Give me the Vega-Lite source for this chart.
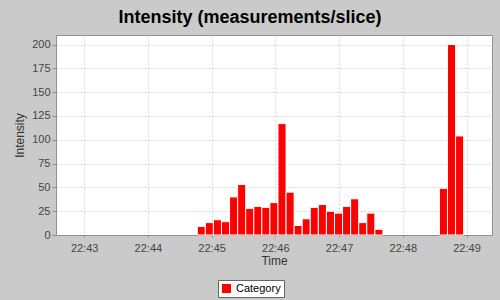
{
  "$schema": "https://vega.github.io/schema/vega-lite/v6.json",
  "width": 436,
  "height": 200,
  "autosize": {"type": "none"},
  "padding": {"left": 56, "top": 35, "right": 8, "bottom": 65},
  "background": "#cacaca",
  "title": {
    "text": "Intensity (measurements/slice)",
    "anchor": "middle",
    "dx": -24,
    "offset": 8,
    "font": "Liberation Sans",
    "fontSize": 18,
    "fontWeight": "bold",
    "color": "#000000"
  },
  "config": {
    "view": {"fill": "#ffffff", "stroke": "#909090", "strokeWidth": 1},
    "axis": {
      "labelFont": "Liberation Sans",
      "labelFontSize": 11,
      "labelColor": "#444444",
      "titleFont": "Liberation Sans",
      "titleFontSize": 12,
      "titleFontWeight": "normal",
      "titleColor": "#333333",
      "domainColor": "#909090",
      "tickColor": "#909090",
      "gridColor": "#d4d4d4",
      "gridDash": [2, 2],
      "gridWidth": 1
    }
  },
  "data": {
    "values": [
      {"start": "2024-01-01T22:44:46.5Z", "end": "2024-01-01T22:44:54.1Z", "value": 9, "series": "Category"},
      {"start": "2024-01-01T22:44:54.1Z", "end": "2024-01-01T22:45:01.7Z", "value": 13, "series": "Category"},
      {"start": "2024-01-01T22:45:01.7Z", "end": "2024-01-01T22:45:09.3Z", "value": 16, "series": "Category"},
      {"start": "2024-01-01T22:45:09.3Z", "end": "2024-01-01T22:45:16.9Z", "value": 14, "series": "Category"},
      {"start": "2024-01-01T22:45:16.9Z", "end": "2024-01-01T22:45:24.5Z", "value": 40, "series": "Category"},
      {"start": "2024-01-01T22:45:24.5Z", "end": "2024-01-01T22:45:32.1Z", "value": 53, "series": "Category"},
      {"start": "2024-01-01T22:45:32.1Z", "end": "2024-01-01T22:45:39.7Z", "value": 28, "series": "Category"},
      {"start": "2024-01-01T22:45:39.7Z", "end": "2024-01-01T22:45:47.3Z", "value": 30, "series": "Category"},
      {"start": "2024-01-01T22:45:47.3Z", "end": "2024-01-01T22:45:54.9Z", "value": 29, "series": "Category"},
      {"start": "2024-01-01T22:45:54.9Z", "end": "2024-01-01T22:46:02.5Z", "value": 34, "series": "Category"},
      {"start": "2024-01-01T22:46:02.5Z", "end": "2024-01-01T22:46:10.1Z", "value": 117, "series": "Category"},
      {"start": "2024-01-01T22:46:10.1Z", "end": "2024-01-01T22:46:17.7Z", "value": 45, "series": "Category"},
      {"start": "2024-01-01T22:46:17.7Z", "end": "2024-01-01T22:46:25.3Z", "value": 10, "series": "Category"},
      {"start": "2024-01-01T22:46:25.3Z", "end": "2024-01-01T22:46:32.9Z", "value": 17, "series": "Category"},
      {"start": "2024-01-01T22:46:32.9Z", "end": "2024-01-01T22:46:40.5Z", "value": 29, "series": "Category"},
      {"start": "2024-01-01T22:46:40.5Z", "end": "2024-01-01T22:46:48.1Z", "value": 32, "series": "Category"},
      {"start": "2024-01-01T22:46:48.1Z", "end": "2024-01-01T22:46:55.7Z", "value": 25, "series": "Category"},
      {"start": "2024-01-01T22:46:55.7Z", "end": "2024-01-01T22:47:03.3Z", "value": 23, "series": "Category"},
      {"start": "2024-01-01T22:47:03.3Z", "end": "2024-01-01T22:47:10.9Z", "value": 30, "series": "Category"},
      {"start": "2024-01-01T22:47:10.9Z", "end": "2024-01-01T22:47:18.5Z", "value": 38, "series": "Category"},
      {"start": "2024-01-01T22:47:18.5Z", "end": "2024-01-01T22:47:26.1Z", "value": 13, "series": "Category"},
      {"start": "2024-01-01T22:47:26.1Z", "end": "2024-01-01T22:47:33.7Z", "value": 23, "series": "Category"},
      {"start": "2024-01-01T22:47:33.7Z", "end": "2024-01-01T22:47:41.3Z", "value": 6, "series": "Category"},
      {"start": "2024-01-01T22:48:34.5Z", "end": "2024-01-01T22:48:42.1Z", "value": 49, "series": "Category"},
      {"start": "2024-01-01T22:48:42.1Z", "end": "2024-01-01T22:48:49.7Z", "value": 200, "series": "Category"},
      {"start": "2024-01-01T22:48:49.7Z", "end": "2024-01-01T22:48:57.3Z", "value": 104, "series": "Category"}
    ]
  },
  "mark": {"type": "bar", "stroke": "#ffffff", "strokeWidth": 1},
  "encoding": {
    "x": {
      "field": "start",
      "type": "temporal",
      "title": "Time",
      "scale": {
        "type": "utc",
        "domain": [1704148953500, 1704149364000],
        "nice": false
      },
      "axis": {
        "format": "%H:%M",
        "values": [1704148980000, 1704149040000, 1704149100000, 1704149160000, 1704149220000, 1704149280000, 1704149340000],
        "tickSize": 2,
        "labelPadding": 5,
        "titlePadding": 2
      }
    },
    "x2": {"field": "end"},
    "y": {
      "field": "value",
      "type": "quantitative",
      "title": "Intensity",
      "scale": {"domain": [0, 210], "nice": false},
      "axis": {
        "values": [0, 25, 50, 75, 100, 125, 150, 175, 200],
        "tickSize": 4,
        "labelPadding": 2,
        "titlePadding": 5
      }
    },
    "y2": {"datum": 0},
    "color": {
      "field": "series",
      "type": "nominal",
      "scale": {"range": ["#ff0000"]},
      "legend": {
        "title": null,
        "orient": "none",
        "legendX": 162,
        "legendY": 245,
        "fillColor": "#ffffff",
        "strokeColor": "#666666",
        "padding": 3,
        "symbolType": "square",
        "symbolSize": 81,
        "symbolStrokeWidth": 0,
        "labelFontSize": 11,
        "labelColor": "#000000",
        "labelOffset": 4
      }
    }
  }
}
